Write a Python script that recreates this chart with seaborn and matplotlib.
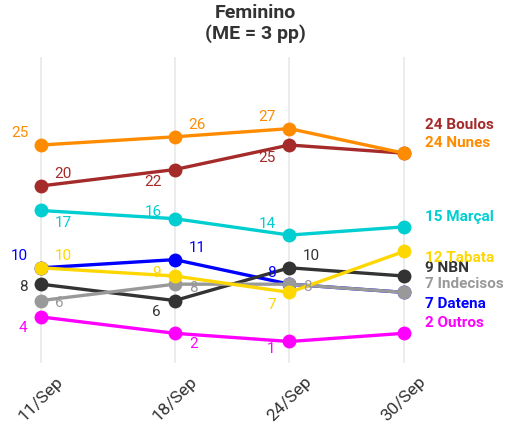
import matplotlib.pyplot as plt
import pandas as pd
import seaborn as sns

# poll dates and tick labels
dates = pd.to_datetime(["2024-09-11", "2024-09-18", "2024-09-24", "2024-09-30"])
tick_labels = ["11/Sep", "18/Sep", "24/Sep", "30/Sep"]

# drawing order (last on top)
candidates = ["Outros", "Datena", "NBN", "Indecisos", "Tabata", "Marçal", "Boulos", "Nunes"]
outros = [4, 2, 1, 2]
datena = [10, 11, 8, 7]
nbn = [8, 6, 10, 9]
indecisos = [6, 8, 8, 7]
tabata = [10, 9, 7, 12]
marcal = [17, 16, 14, 15]
boulos = [20, 22, 25, 24]
nunes = [25, 26, 27, 24]

palette = {"Outros": "#ff00ff", "Datena": "#0000ff", "NBN": "#333333",
           "Indecisos": "#999999", "Tabata": "#ffd700", "Marçal": "#00ced1",
           "Boulos": "#a52a2a", "Nunes": "#ff8c00"}

# value label offsets in pixels (dx, dy; dy positive = down), first three dates
label_px = {
    "Nunes": [(-21, -12), (22, -12), (-22, -12)],
    "Boulos": [(22, -12), (-22, 12), (-22, 13)],
    "Marçal": [(22, 13), (-21, -7), (-22, -11)],
    "Datena": [(-22, -12), (22, -12), (-18, -11)],
    "Tabata": [(22, -12), (-18, -3), (-18, 13)],
    "NBN": [(-18, 3), (-18, 11), (22, -12)],
    "Indecisos": [(18, 2), (19, 4), (18, 3)],
    "Outros": [(-18, 11), (19, 11), (-18, 8)],
}
# end label vertical shift in pixels
end_dy = {"Boulos": -28, "Nunes": -10, "Marçal": -10, "Tabata": 7,
          "NBN": -8, "Indecisos": -8, "Datena": 12, "Outros": -10}

values = {"Outros": outros, "Datena": datena, "NBN": nbn, "Indecisos": indecisos,
          "Tabata": tabata, "Marçal": marcal, "Boulos": boulos, "Nunes": nunes}
df = pd.DataFrame([{"date": d, "cand": c, "pct": v}
                   for c in candidates for d, v in zip(dates, values[c])])

sns.set_theme(style="white")
plt.rcParams["font.family"] = ["Roboto", "DejaVu Sans"]

fig = plt.figure(figsize=(5.1, 4.24), dpi=100)
ax = fig.add_axes([0.0, 0.144, 1.0, 0.7216])

sns.lineplot(data=df, x="date", y="pct", hue="cand", hue_order=candidates,
             palette=palette, marker="o", markersize=10, markeredgewidth=0,
             linewidth=2.4, legend=False, ax=ax)

PX = 0.72
for c in candidates:
    for i in range(3):
        dx, dy = label_px[c][i]
        ax.annotate(str(values[c][i]), (dates[i], values[c][i]),
                    xytext=(dx * PX, -dy * PX), textcoords="offset points",
                    ha="center", va="center", fontsize=11, color=palette[c])
    ax.annotate(f"{values[c][-1]} {c}", (dates[-1], values[c][-1]),
                xytext=(21 * PX, -end_dy[c] * PX), textcoords="offset points",
                ha="left", va="center", fontsize=11, fontweight="bold",
                color=palette[c])

ax.set_xlim(dates[0] - pd.Timedelta(days=2.15), dates[-1] + pd.Timedelta(days=5.55))
ax.set_ylim(-1.62, 35.75)
ax.set_xticks(dates)
ax.set_xticklabels(tick_labels, rotation=45, ha="center", va="top",
                   fontsize=12.5, color="#333333")
ax.tick_params(axis="x", length=0, pad=8)
ax.set_yticks([])
ax.set_xlabel("")
ax.set_ylabel("")
ax.xaxis.grid(True, color="#ebebeb", linewidth=1.3)
ax.yaxis.grid(False)
for s in ax.spines.values():
    s.set_visible(False)
ax.set_facecolor("white")

fig.text(0.5, 1 - 4 / 424, "Feminino\n(ME = 3 pp)", ha="center", va="top",
         fontsize=14, fontweight="bold", color="#333333", linespacing=1.15)

fig.savefig("out.png", dpi=100)
